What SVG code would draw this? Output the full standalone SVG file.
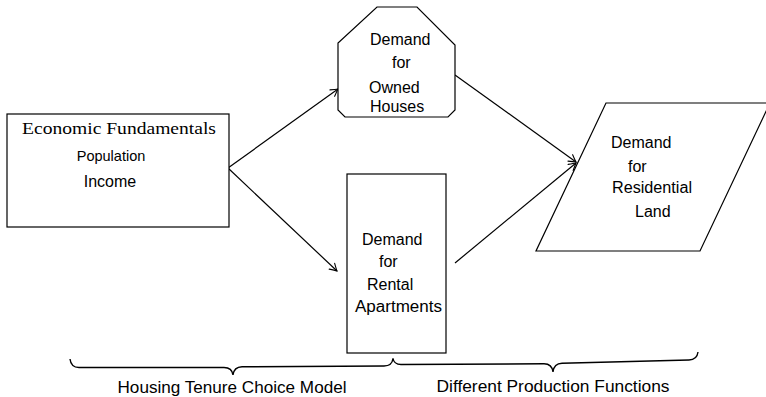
<svg xmlns="http://www.w3.org/2000/svg" width="766" height="397" viewBox="0 0 766 397">
  <style>
    .shape { fill: #ffffff; stroke: #000000; stroke-width: 1.2; }
    .lbl { font-family: "Liberation Sans", Arial, sans-serif; font-size: 16px; fill: #000000; }
    .serif { font-family: "Liberation Serif", "Times New Roman", serif; font-size: 17px; fill: #000000; }
    .edge { fill: none; stroke: #000000; stroke-width: 1.2; }
    .brace { fill: none; stroke: #000000; stroke-width: 1.4; }
  </style>
  <defs>
    <marker id="to" viewBox="-8 -5 10 10" refX="0" refY="0" markerWidth="10" markerHeight="10" markerUnits="userSpaceOnUse" orient="auto">
      <path d="M -7,-4 Q -2,-1 0,0 Q -2,1 -7,4" fill="none" stroke="#000000" stroke-width="1.1" stroke-linecap="round"/>
    </marker>
  </defs>

  <rect width="766" height="397" fill="#ffffff"/>

  <!-- connectors -->
  <g id="connectors">
    <line class="edge" x1="228" y1="168" x2="338" y2="89" marker-end="url(#to)"/>
    <line class="edge" x1="228" y1="168" x2="337" y2="271" marker-end="url(#to)"/>
    <line class="edge" x1="455" y1="75" x2="576" y2="162" marker-end="url(#to)"/>
    <line class="edge" x1="455" y1="263" x2="576" y2="163" marker-end="url(#to)"/>
  </g>

  <!-- economic fundamentals -->
  <g id="fundamentals">
    <rect class="shape" x="7" y="114" width="222" height="113"/>
    <text class="serif" x="119" y="134" text-anchor="middle" textLength="194" lengthAdjust="spacingAndGlyphs">Economic Fundamentals</text>
    <text class="lbl" x="111" y="161" text-anchor="middle" style="font-size:14.5px">Population</text>
    <text class="lbl" x="110" y="187" text-anchor="middle">Income</text>
  </g>

  <!-- owned houses -->
  <g id="owned">
    <polygon class="shape" points="377,7 417,7 455,45 455,110 448,117 345,117 338,110 338,43"/>
    <text class="lbl" x="370" y="45">Demand</text>
    <text class="lbl" x="392" y="68">for</text>
    <text class="lbl" x="369" y="93">Owned</text>
    <text class="lbl" x="370" y="112">Houses</text>
  </g>

  <!-- rental apartments -->
  <g id="rental">
    <rect class="shape" x="347" y="174" width="99" height="179"/>
    <text class="lbl" x="362" y="245">Demand</text>
    <text class="lbl" x="379" y="267">for</text>
    <text class="lbl" x="367" y="290">Rental</text>
    <text class="lbl" x="355" y="312" textLength="87" lengthAdjust="spacingAndGlyphs">Apartments</text>
  </g>

  <!-- residential land -->
  <g id="land">
    <polygon class="shape" points="606,103 770,103 700,251 536,251"/>
    <text class="lbl" x="611" y="148">Demand</text>
    <text class="lbl" x="628" y="172">for</text>
    <text class="lbl" x="612" y="193" textLength="80" lengthAdjust="spacingAndGlyphs">Residential</text>
    <text class="lbl" x="635" y="217">Land</text>
  </g>

  <!-- braces -->
  <g id="tenure">
    <path class="brace" d="M70,359 Q71,367.5 79,367.5 L224,367.5 Q232,367.5 233,375 Q234,367 242,366.8 L384,366 Q392,366 393,358.5"/>
    <text class="lbl" x="232" y="393" text-anchor="middle" textLength="229" lengthAdjust="spacingAndGlyphs">Housing Tenure Choice Model</text>
  </g>
  <g id="production">
    <path class="brace" d="M393,358.5 Q394,364.5 401,364.5 L544,363.8 Q552,363.8 553,372 Q554,363.5 562,363.3 L689,360 Q697,359.8 698,352"/>
    <text class="lbl" x="553" y="392" text-anchor="middle" textLength="233" lengthAdjust="spacingAndGlyphs">Different Production Functions</text>
  </g>
</svg>
